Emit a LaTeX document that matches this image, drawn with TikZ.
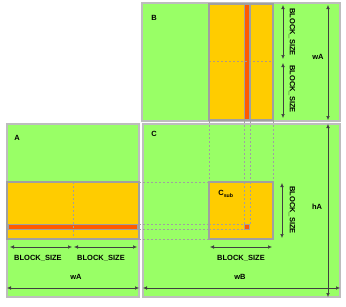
\documentclass[tikz,border=0pt]{standalone}
\usepackage{fontspec}
\setmainfont{Liberation Sans}
\usetikzlibrary{arrows.meta}

\definecolor{matgreen}{RGB}{153,255,102}
\definecolor{subyellow}{RGB}{255,204,0}
\definecolor{lineorange}{RGB}{255,90,0}
\definecolor{edgegray}{RGB}{160,160,160}

\begin{document}
\begin{tikzpicture}[x=1pt,y=-1pt,
  mat/.style={fill=matgreen,draw=edgegray!70,line width=1.3pt},
  sub/.style={fill=subyellow,draw=edgegray,line width=1.6pt},
  strip/.style={fill=edgegray,draw=none},
  hot/.style={fill=lineorange,draw=none},
  guide/.style={draw=edgegray,line width=.8pt,dash pattern=on 2pt off 2pt},
  dim/.style={{Latex[length=4pt,width=3.5pt]}-{Latex[length=4pt,width=3.5pt]},line width=.5pt,draw=black!75},
  lbl/.style={font=\fontsize{7.5}{8}\selectfont\bfseries,inner sep=0pt}]

\useasboundingbox (0,0) rectangle (346,306);

% matrices
\draw[mat] (142,3) rectangle (340,121);
\draw[mat] (7,124) rectangle (139,297);
\draw[mat] (143,124) rectangle (340,297);

% guides from B and A into C
\draw[guide] (209,121)--(209,182);
\draw[guide] (273,121)--(273,182);
\draw[guide] (244,121)--(244,229);
\draw[guide] (250,121)--(250,229);
\draw[guide] (139,182)--(209,182);
\draw[guide] (139,239)--(209,239);
\draw[guide] (139,224)--(250,224);
\draw[guide] (139,229)--(250,229);

% column of B
\draw[sub] (209,4) rectangle (273,120);
\path[strip] (243.5,4) rectangle (250.5,120);
\path[hot] (245,5) rectangle (249,119);
\draw[guide,draw=edgegray!80!orange] (209,61)--(273,61);

% row of A
\draw[sub] (7,182) rectangle (139,239);
\path[strip] (7,223.5) rectangle (139,230);
\path[hot] (9,225) rectangle (137,228.5);
\draw[guide] (73,182)--(73,239);

% Csub
\draw[sub] (209,182) rectangle (273,239);
\draw[guide] (244,182)--(244,224);
\draw[guide] (250,182)--(250,224);
\draw[guide] (209,224)--(244,224);
\draw[guide] (209,229)--(244,229);
\draw[fill=lineorange,draw=edgegray,line width=.8pt] (244.5,224.5) rectangle (249.5,229);

% names
\node[lbl] (nameB) at (154,18) {B};
\node[lbl] (nameA) at (17,138) {A};
\node[lbl] (nameC) at (154,134) {C};
\node[lbl] (csub) at (226,194) {C\textsubscript{sub}};

% dimensions of B
\coordinate (b1) at (283,5);
\coordinate (b2) at (283,59);
\coordinate (b3) at (283,63);
\coordinate (b4) at (283,118);
\draw[dim] (b1)--(b2);
\draw[dim] (b3)--(b4);
\node[lbl,rotate=-90] (bsB1) at (292,32) {BLOCK\_SIZE};
\node[lbl,rotate=-90] (bsB2) at (292,89) {BLOCK\_SIZE};
\coordinate (wa1) at (328,5);
\coordinate (wa2) at (328,120);
\draw[dim] (wa1)--(wa2);
\node[lbl] (waB) at (318,57) {wA};

% dimensions of A
\coordinate (a1) at (10,247);
\coordinate (a2) at (72,247);
\coordinate (a3) at (74,247);
\coordinate (a4) at (137,247);
\draw[dim] (a1)--(a2);
\draw[dim] (a3)--(a4);
\node[lbl] (bsA1) at (38,258) {BLOCK\_SIZE};
\node[lbl] (bsA2) at (101,258) {BLOCK\_SIZE};
\node[lbl] (waA) at (76,277) {wA};
\coordinate (wa3) at (7,288);
\coordinate (wa4) at (139,288);
\draw[dim] (wa3)--(wa4);

% dimensions of C
\coordinate (c1) at (282,183);
\coordinate (c2) at (282,238);
\draw[dim] (c1)--(c2);
\node[lbl,rotate=-90] (bsC1) at (292,210) {BLOCK\_SIZE};
\coordinate (c3) at (210,247);
\coordinate (c4) at (272,247);
\draw[dim] (c3)--(c4);
\node[lbl] (bsC2) at (241,258) {BLOCK\_SIZE};
\node[lbl] (wbC) at (240,277) {wB};
\coordinate (wb1) at (143,288);
\coordinate (wb2) at (340,288);
\draw[dim] (wb1)--(wb2);
\coordinate (ha1) at (328,124);
\coordinate (ha2) at (328,297);
\draw[dim] (ha1)--(ha2);
\node[lbl] (haC) at (317,207) {hA};

\end{tikzpicture}
\end{document}
